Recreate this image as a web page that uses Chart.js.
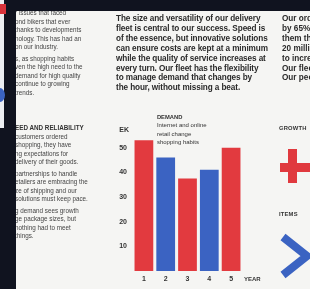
<!DOCTYPE html>
<html>
<head>
<meta charset="utf-8">
<script src="https://cdn.jsdelivr.net/npm/chart.js@4"></script>
<style>
  html, body { margin: 0; padding: 0; }
  body { width: 310px; height: 289px; overflow: hidden; background: #10131f; position: relative; font-family: "Liberation Sans", Arial, sans-serif; }
  .abs { position: absolute; }
  #sliver { left: 0; top: 0; width: 4px; height: 128px; background: #eceef2; }
  #sliverRed { left: 0; top: 4px; width: 6px; height: 10px; background: #d9333b; }
  #sliverBlue { left: -6px; top: 88px; width: 11px; height: 14px; border-radius: 50%; background: #3b63c2; }
  #page { left: 16px; top: 11px; width: 294px; height: 278px; background: #f5f5f3; overflow: hidden; }
  .blur { filter: blur(0.45px); }
  .col { position: absolute; white-space: nowrap; color: #2a2a2a; }
  #colLeft { left: -1px; top: -2px; font-size: 6.3px; line-height: 8.5px; color: #444; }
  #colLeft .gap { height: 3px; }
  #colLeft .head { font-weight: bold; color: #333; margin-top: 27px; }
  #colMid { left: 100px; top: 3px; font-size: 8.2px; line-height: 9.9px; font-weight: bold; letter-spacing: -0.1px; }
  #colRight { left: 266px; top: 3px; font-size: 8.2px; line-height: 9.9px; font-weight: bold; }
  .label { position: absolute; font-size: 5.8px; font-weight: bold; color: #333; letter-spacing: 0.2px; }
  #chartBox { position: absolute; left: 110px; top: 100px; }
</style>
</head>
<body>
<div class="abs" id="sliver"></div>
<div class="abs" id="sliverRed"></div>
<div class="abs" id="sliverBlue"></div>
<div class="abs" id="page">
  <div class="blur">
    <div class="col" id="colLeft">
      <div>r issues that faced</div>
      <div>ond bikers that ever</div>
      <div>thanks to developments</div>
      <div>nology. This has had an</div>
      <div>on our industry.</div>
      <div class="gap"></div>
      <div>s, as shopping habits</div>
      <div>ven the high need to the</div>
      <div>demand for high quality</div>
      <div>continue to growing</div>
      <div>trends.</div>
      <div class="head">EED AND RELIABILITY</div>
      <div>customers ordered</div>
      <div>shopping, they have</div>
      <div>ng expectations for</div>
      <div>delivery of their goods.</div>
      <div class="gap"></div>
      <div>partnerships to handle</div>
      <div>etailers are embracing the</div>
      <div>ze of shipping and our</div>
      <div>solutions must keep pace.</div>
      <div class="gap"></div>
      <div>g demand sees growth</div>
      <div>ge package sizes, but</div>
      <div>nothing had to meet</div>
      <div>things.</div>
    </div>
    <div class="col" id="colMid">
      <div>The size and versatility of our delivery</div>
      <div>fleet is central to our success. Speed is</div>
      <div>of the essence, but innovative solutions</div>
      <div>can ensure costs are kept at a minimum</div>
      <div>while the quality of service increases at</div>
      <div>every turn. Our fleet has the flexibility</div>
      <div>to manage demand that changes by</div>
      <div>the hour, without missing a beat.</div>
    </div>
    <div class="col" id="colRight">
      <div>Our orders grew</div>
      <div>by 65% last year,</div>
      <div>them the fastest</div>
      <div>20 million parcels</div>
      <div>to increase again.</div>
      <div>Our fleet keeps up.</div>
      <div>Our people too.</div>
    </div>
    <div class="label" style="left:263px; top:114px;">GROWTH</div>
    <div class="label" style="left:263px; top:200px;">ITEMS</div>
    <svg class="abs" style="left:0; top:0;" width="294" height="278">
      <rect x="264" y="152" width="30" height="9" fill="#e0393e"/>
      <rect x="272" y="138" width="9" height="34" fill="#e0393e"/>
      <polyline points="267,226 291,245 267,264" fill="none" stroke="#3b63c2" stroke-width="8"/>
    </svg>
  </div>
</div>
<div id="chartBox" class="blur"><canvas id="demandChart" width="170" height="189"></canvas></div>
<script>
const years = ['1', '2', '3', '4', '5'];
const demand = [53, 46, 37.5, 41, 50];
const yTicks = [10, 20, 30, 40, 50];
const legendLines = ['DEMAND', 'Internet and online', 'retail change', 'shopping habits'];
const unitLabel = 'EK';
const axisLabel = 'YEAR';

const red = '#e23a3f';
const blue = '#3b63c2';

const extraText = {
  id: 'extraText',
  afterDraw(chart) {
    const { ctx, chartArea, scales } = chart;
    ctx.save();
    ctx.fillStyle = '#333';
    ctx.textBaseline = 'middle';
    // unit above the value ticks
    ctx.font = 'bold 7px "Liberation Sans", Arial, sans-serif';
    ctx.textAlign = 'right';
    ctx.fillText(unitLabel, chartArea.left - 4, scales.y.getPixelForValue(57));
    // axis name after the last year
    ctx.font = 'bold 6px "Liberation Sans", Arial, sans-serif';
    ctx.textAlign = 'left';
    ctx.fillText(axisLabel, chartArea.right + 2, chartArea.bottom + 8);
    // small caption block
    const x = scales.x.getPixelForValue(0) + 13;
    legendLines.forEach((t, i) => {
      ctx.font = (i === 0 ? 'bold 5.8px ' : '6px ') + '"Liberation Sans", Arial, sans-serif';
      ctx.fillText(t, x, chartArea.top - 6 + i * 8.6);
    });
    ctx.restore();
  }
};

new Chart(document.getElementById('demandChart'), {
  type: 'bar',
  data: {
    labels: years,
    datasets: [{
      label: 'Demand',
      data: demand,
      backgroundColor: demand.map((v, i) => i % 2 === 0 ? red : blue),
      categoryPercentage: 1,
      barPercentage: 0.86,
      borderWidth: 0
    }]
  },
  options: {
    responsive: false,
    animation: false,
    devicePixelRatio: 1,
    layout: { padding: { top: 23, right: 38, bottom: 0, left: 0 } },
    plugins: { legend: { display: false }, tooltip: { enabled: false } },
    scales: {
      x: {
        grid: { display: false, drawTicks: false },
        border: { display: false },
        ticks: { color: '#333', padding: 4, font: { size: 7, weight: 'bold', family: '"Liberation Sans", Arial, sans-serif' } },
        afterFit: (s) => { s.height = 18; }
      },
      y: {
        min: 0,
        max: 60,
        grid: { display: false, drawTicks: false },
        border: { display: false },
        afterBuildTicks: (s) => { s.ticks = yTicks.map(v => ({ value: v })); },
        ticks: { color: '#333', padding: 6, font: { size: 7, weight: 'bold', family: '"Liberation Sans", Arial, sans-serif' } },
        afterFit: (s) => { s.width = 23; }
      }
    }
  },
  plugins: [extraText]
});
</script>
</body>
</html>
